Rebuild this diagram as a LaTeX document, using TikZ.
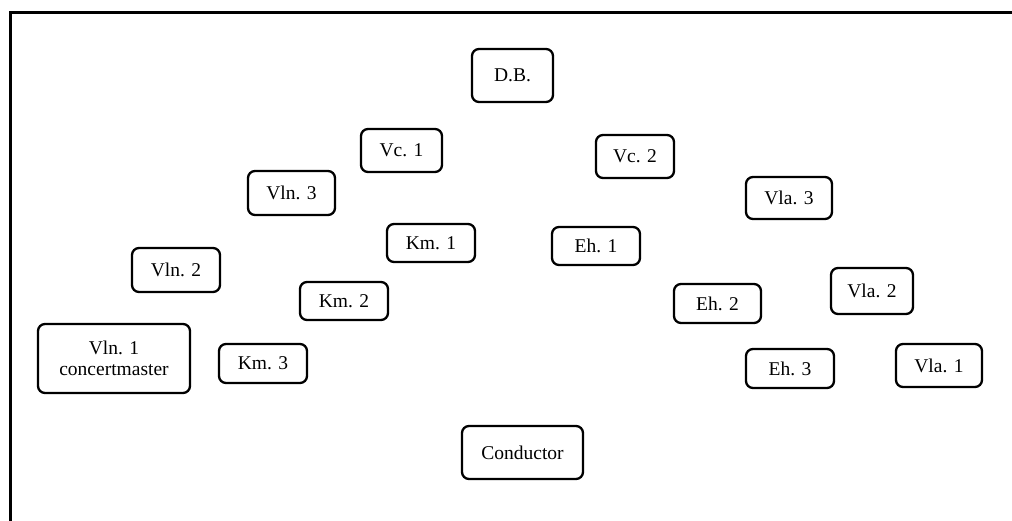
\documentclass[tikz,border=0pt]{standalone}
\usepackage{fontspec}
\setmainfont{Liberation Serif}
\begin{document}
\begin{tikzpicture}[x=1pt,y=-1pt,
  box/.style={draw, line width=2.3pt, rounded corners=7pt, align=center,
    inner sep=0pt, font=\fontsize{19.5}{21}\selectfont, text=black},
  frame/.style={line width=3pt}]
\useasboundingbox (0,0) rectangle (1012,520);
\draw[frame] (10,521) -- (10,12.5) -- (1013,12.5);
\node[box, minimum width=81pt, minimum height=53pt] (db) at (512.5,75.5) {D.B.};
\node[box, minimum width=81pt, minimum height=43pt] (vc1) at (401.5,150.5) {Vc. 1};
\node[box, minimum width=78pt, minimum height=43pt] (vc2) at (635,156.5) {Vc. 2};
\node[box, minimum width=87pt, minimum height=44pt] (vln3) at (291.5,193) {Vln. 3};
\node[box, minimum width=86pt, minimum height=42pt] (vla3) at (789,198) {Vla. 3};
\node[box, minimum width=88pt, minimum height=38pt] (km1) at (431,243) {Km. 1};
\node[box, minimum width=88pt, minimum height=38pt] (eh1) at (596,246) {Eh. 1};
\node[box, minimum width=88pt, minimum height=44pt] (vln2) at (176,270) {Vln. 2};
\node[box, minimum width=88pt, minimum height=38pt] (km2) at (344,301) {Km. 2};
\node[box, minimum width=82pt, minimum height=46pt] (vla2) at (872,291) {Vla. 2};
\node[box, minimum width=87pt, minimum height=39pt] (eh2) at (717.5,303.5) {Eh. 2};
\node[box, minimum width=152pt, minimum height=69pt] (vln1) at (114,358.5) {Vln. 1\\concertmaster};
\node[box, minimum width=88pt, minimum height=39pt] (km3) at (263,363.5) {Km. 3};
\node[box, minimum width=88pt, minimum height=39pt] (eh3) at (790,368.5) {Eh. 3};
\node[box, minimum width=86pt, minimum height=43pt] (vla1) at (939,365.5) {Vla. 1};
\node[box, minimum width=121pt, minimum height=53pt] (cond) at (522.5,452.5) {Conductor};
\end{tikzpicture}
\end{document}
